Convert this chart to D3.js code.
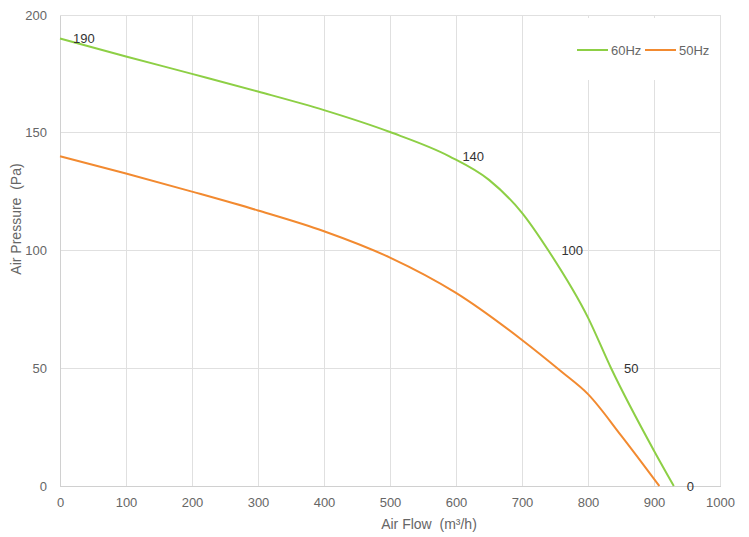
<!DOCTYPE html>
<html>
<head>
<meta charset="utf-8">
<script src="https://cdn.jsdelivr.net/npm/d3@7/dist/d3.min.js"></script>
<style>
  html, body { margin: 0; padding: 0; background: #fff; }
  svg { display: block; font-family: "Liberation Sans", Arial, Helvetica, sans-serif; }
  .title { white-space: pre; }
</style>
</head>
<body>
<svg id="chart" width="749" height="537"></svg>
<script>
// ---- data ----
const xTicks = [0, 100, 200, 300, 400, 500, 600, 700, 800, 900, 1000];
const yTicks = [0, 50, 100, 150, 200];

const flow60 = [0, 100, 200, 300, 400, 500, 590, 650, 700, 740, 800, 835, 900, 930];
const pres60 = [190, 182.4, 175, 167.5, 159.6, 150.3, 140, 130, 116, 100, 71.5, 50, 15, 0];
const labeled60 = [0, 590, 740, 835, 930];

const flow50 = [0, 100, 200, 300, 400, 500, 600, 700, 760, 800, 850, 908];
const pres50 = [140, 132.7, 125, 117, 108.2, 97, 82, 62, 48.5, 39, 21.5, 0];

const seriesNames = ["60Hz", "50Hz"];
const xTitle = "Air Flow  (m³/h)";
const yTitle = "Air Pressure  (Pa)";

// ---- layout ----
const margin = { left: 60, right: 29, top: 15, bottom: 51 };
const W = 749, H = 537;
const svg = d3.select("#chart");
const x = d3.scaleLinear().domain([0, 1000]).range([margin.left, W - margin.right]);
const y = d3.scaleLinear().domain([0, 200]).range([H - margin.bottom, margin.top]);

const gridColor = "#e0e0e0";
const textColor = "#666";
const colors = { "60Hz": "#8dcf45", "50Hz": "#f28a30" };

// grid
svg.append("g").selectAll("line").data(xTicks).join("line")
  .attr("x1", d => x(d)).attr("x2", d => x(d))
  .attr("y1", y(200)).attr("y2", y(0))
  .attr("stroke", gridColor).attr("stroke-width", 1).attr("shape-rendering", "crispEdges");
svg.append("g").selectAll("line").data(yTicks).join("line")
  .attr("x1", x(0)).attr("x2", x(1000))
  .attr("y1", d => y(d)).attr("y2", d => y(d))
  .attr("stroke", gridColor).attr("stroke-width", 1).attr("shape-rendering", "crispEdges");

// axes
const xAxis = svg.append("g").attr("transform", `translate(0,${y(0)})`)
  .call(d3.axisBottom(x).tickValues(xTicks).tickFormat(d3.format("d")).tickSize(0).tickPadding(12));
const yAxis = svg.append("g").attr("transform", `translate(${x(0)},0)`)
  .call(d3.axisLeft(y).tickValues(yTicks).tickFormat(d3.format("d")).tickSize(0).tickPadding(13));
[xAxis, yAxis].forEach(a => {
  a.select(".domain").attr("stroke", "#d0d0d0").attr("shape-rendering", "crispEdges");
  a.selectAll("text").attr("fill", textColor).attr("font-size", 13)
    .attr("font-family", "'Liberation Sans', Arial, sans-serif");
});

// axis titles
svg.append("text").attr("class", "title").attr("x", 429).attr("y", 529)
  .attr("text-anchor", "middle").attr("fill", textColor).attr("font-size", 14)
  .text(xTitle);
svg.append("text").attr("class", "title")
  .attr("transform", `translate(21,219) rotate(-90)`)
  .attr("text-anchor", "middle").attr("fill", textColor).attr("font-size", 14)
  .text(yTitle);

// lines
const line = d3.line().x(d => x(d[0])).y(d => y(d[1])).curve(d3.curveMonotoneX);
const data60 = flow60.map((f, i) => [f, pres60[i]]);
const data50 = flow50.map((f, i) => [f, pres50[i]]);

svg.append("path").datum(data50).attr("d", line)
  .attr("fill", "none").attr("stroke", colors["50Hz"]).attr("stroke-width", 2);
svg.append("path").datum(data60).attr("d", line)
  .attr("fill", "none").attr("stroke", colors["60Hz"]).attr("stroke-width", 2);

// data labels (60Hz)
svg.append("g").selectAll("text")
  .data(data60.filter(d => labeled60.includes(d[0])))
  .join("text")
  .attr("x", d => x(d[0]) + 13).attr("y", d => y(d[1]))
  .attr("dy", "0.35em").attr("fill", "#333").attr("font-size", 13)
  .text(d => d[1]);

// legend
svg.append("rect").attr("x", 566).attr("y", 18).attr("width", 152).attr("height", 62)
  .attr("fill", "#fff");
const legendItems = [
  { name: seriesNames[0], x0: 577 },
  { name: seriesNames[1], x0: 645 }
];
const lg = svg.append("g").selectAll("g").data(legendItems).join("g");
lg.append("line")
  .attr("x1", d => d.x0).attr("x2", d => d.x0 + 31)
  .attr("y1", 50).attr("y2", 50)
  .attr("stroke", d => colors[d.name]).attr("stroke-width", 2);
lg.append("text")
  .attr("x", d => d.x0 + 34).attr("y", 50).attr("dy", "0.35em")
  .attr("fill", textColor).attr("font-size", 13)
  .text(d => d.name);
</script>
</body>
</html>
